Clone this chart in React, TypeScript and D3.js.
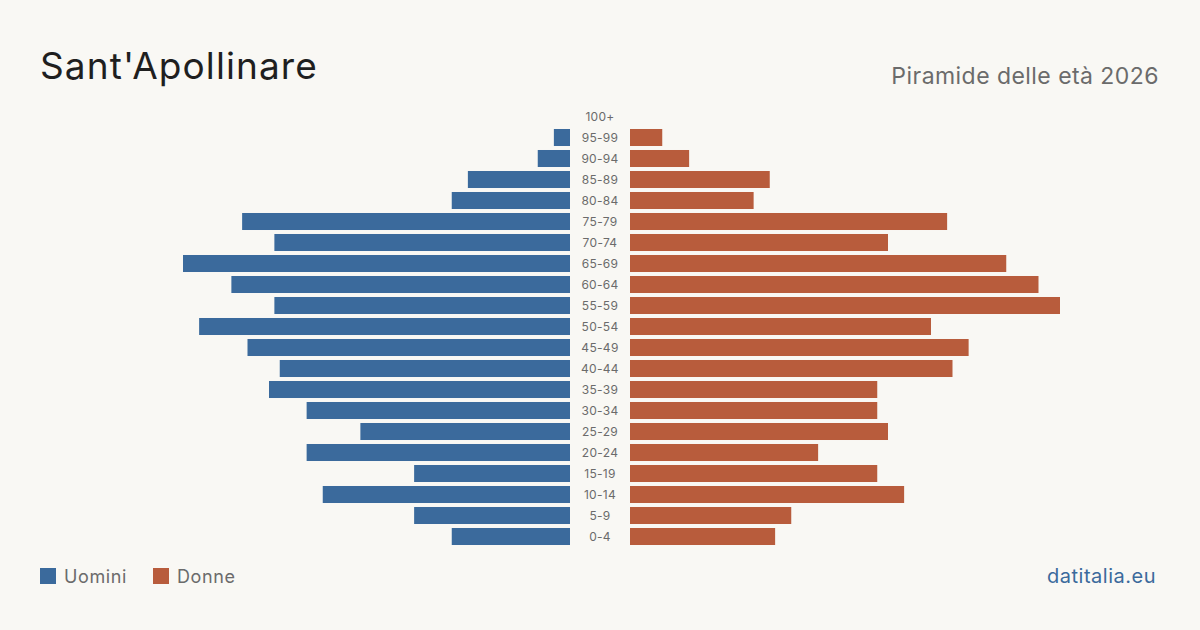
import React from 'react';
import * as d3 from 'd3';

const ageGroups = ['100+', '95-99', '90-94', '85-89', '80-84', '75-79', '70-74', '65-69', '60-64', '55-59', '50-54', '45-49', '40-44', '35-39', '30-34', '25-29', '20-24', '15-19', '10-14', '5-9', '0-4'];
const men = [0, 3, 6, 19, 22, 61, 55, 72, 63, 55, 69, 60, 54, 56, 49, 39, 49, 29, 46, 29, 22];
const women = [0, 6, 11, 26, 23, 59, 48, 70, 76, 80, 56, 63, 60, 46, 46, 48, 35, 46, 51, 30, 27];
const legendLabels = ['Uomini', 'Donne'];

const W = 1200;
const H = 630;
const FONT = 'Inter, "Noto Sans", sans-serif';
const BLUE = '#3b6a9c';
const RUST = '#b85c3c';

const App: React.FC = () => {
  const maxVal = d3.max([...men, ...women]) || 1;

  const y = d3.scaleBand<string>()
    .domain(ageGroups)
    .range([106, 547])
    .paddingInner(0.19)
    .paddingOuter(0.095);

  const xLeft = d3.scaleLinear().domain([0, maxVal]).range([570, 140]);
  const xRight = d3.scaleLinear().domain([0, maxVal]).range([630, 1060]);

  return (
    <svg width={W} height={H} viewBox={`0 0 ${W} ${H}`}
      style={{ position: 'absolute', left: 0, top: 0, background: '#f9f8f4' }}>
      <rect width={W} height={H} fill="#f9f8f4" />

      <text x={40} y={79} fontFamily={FONT} fontSize={37} letterSpacing={1.1} fill="#1f1f1f">Sant'Apollinare</text>
      <text x={1159} y={84} textAnchor="end" fontFamily={FONT} fontSize={23} letterSpacing={0.45} fill="#6b6b6b">Piramide delle età 2026</text>

      {ageGroups.map((g, i) => (
        <g key={g}>
          {men[i] > 0 && (
            <rect x={xLeft(men[i])} y={y(g)} width={570 - xLeft(men[i])} height={y.bandwidth()} fill={BLUE} />
          )}
          {women[i] > 0 && (
            <rect x={630} y={y(g)} width={xRight(women[i]) - 630} height={y.bandwidth()} fill={RUST} />
          )}
          <text x={600} y={(y(g) || 0) + y.bandwidth() / 2} dy="0.35em" textAnchor="middle"
            fontFamily={FONT} fontSize={12} letterSpacing={0.3} fill="#6b6b6b">{g}</text>
        </g>
      ))}

      {/* Legend */}
      <rect x={40} y={568} width={16} height={16} fill={BLUE} />
      <text x={64} y={583} fontFamily={FONT} fontSize={18} letterSpacing={0.6} fill="#6b6b6b">{legendLabels[0]}</text>
      <rect x={153} y={568} width={16} height={16} fill={RUST} />
      <text x={177} y={583} fontFamily={FONT} fontSize={18} letterSpacing={0.6} fill="#6b6b6b">{legendLabels[1]}</text>

      <text x={1156} y={583} textAnchor="end" fontFamily={FONT} fontSize={20} letterSpacing={0.5} fill="#3b6a9c">datitalia.eu</text>
    </svg>
  );
};

export default App;
